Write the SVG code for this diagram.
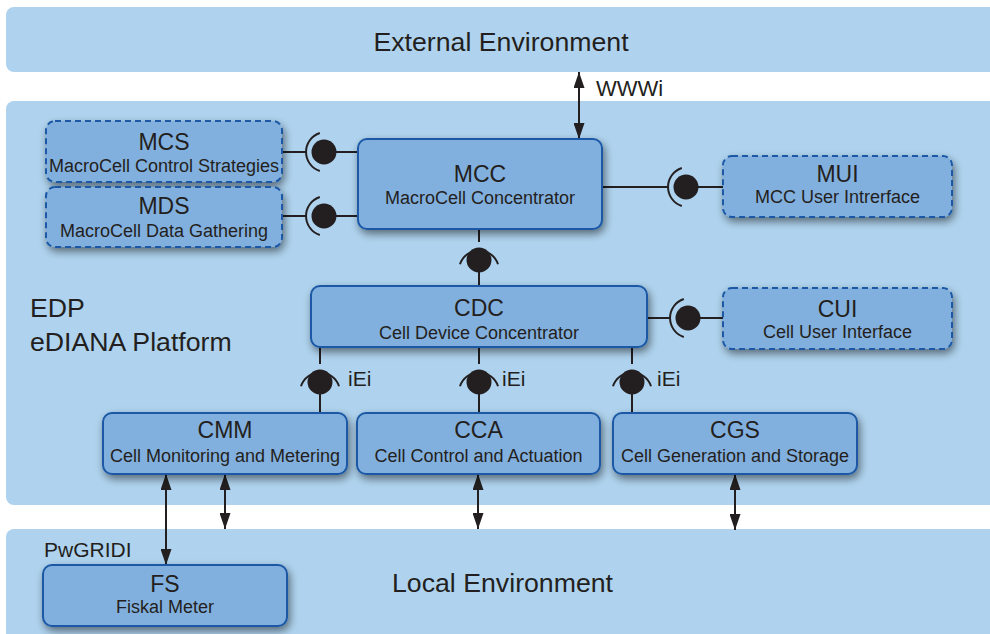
<svg xmlns="http://www.w3.org/2000/svg" width="990" height="634" viewBox="0 0 990 634">
<defs>
<filter id="sh" x="-20%" y="-30%" width="140%" height="170%">
<feGaussianBlur in="SourceAlpha" stdDeviation="4.5"/>
<feOffset dx="2" dy="4" result="b"/>
<feComponentTransfer><feFuncA type="linear" slope="0.5"/></feComponentTransfer>
<feMerge><feMergeNode/><feMergeNode in="SourceGraphic"/></feMerge>
</filter>
<marker id="ah" viewBox="0 0 10 10" refX="10" refY="5" markerWidth="16" markerHeight="11" markerUnits="userSpaceOnUse" orient="auto-start-reverse" preserveAspectRatio="none">
<path d="M0,0 L10,5 L0,10 z" fill="#231f20"/>
</marker>
</defs>
<style>
.panel{fill:#afd3ee}
.node{fill:#82b0de;stroke:#1b59a6;stroke-width:2}
.dash{stroke-dasharray:6 4}
.t{font-family:"Liberation Sans",Arial,sans-serif;fill:#231f20}
.title{font-size:23px;text-anchor:middle}
.sub{font-size:18px;text-anchor:middle}
.big{font-size:26.7px}
.lbl{font-size:21px}
.ln{stroke:#231f20;stroke-width:2;fill:none}
.ball{fill:#231f20}
.arr{stroke:#231f20;stroke-width:2;fill:none;marker-start:url(#ah);marker-end:url(#ah)}
</style>
<rect width="990" height="634" fill="#ffffff"/>
<g id="external">
<rect class="panel" x="6" y="7" width="1000" height="65" rx="8"/>
<text class="t big" x="501" y="51" text-anchor="middle">External Environment</text>
</g>
<g id="edp">
<rect class="panel" x="6" y="101" width="1000" height="404" rx="8"/>
<text class="t big" x="30" y="317">EDP</text>
<text class="t big" x="30" y="351">eDIANA Platform</text>
</g>
<g id="local">
<rect class="panel" x="6" y="529" width="1000" height="120" rx="8"/>
<text class="t big" x="392" y="592">Local Environment</text>
<text class="t lbl" x="44" y="557">PwGRIDI</text>
</g>
<g id="connectors">
<!-- MCS - MCC -->
<line class="ln" x1="282" y1="152" x2="306" y2="152"/>
<path class="ln" d="M319.8,133 A20,20 0 0 0 319.8,171"/>
<circle class="ball" cx="324" cy="152" r="12.5"/>
<line class="ln" x1="324" y1="152" x2="358" y2="152"/>
<!-- MDS - MCC -->
<line class="ln" x1="282" y1="216" x2="306" y2="216"/>
<path class="ln" d="M319.8,197 A20,20 0 0 0 319.8,235"/>
<circle class="ball" cx="324" cy="216" r="12.5"/>
<line class="ln" x1="324" y1="216" x2="358" y2="216"/>
<!-- MCC - MUI -->
<line class="ln" x1="602" y1="187" x2="668" y2="187"/>
<path class="ln" d="M681.8,168 A20,20 0 0 0 681.8,206"/>
<circle class="ball" cx="686" cy="187" r="12.5"/>
<line class="ln" x1="686" y1="187" x2="723" y2="187"/>
<!-- MCC - CDC -->
<line class="ln" x1="479" y1="229" x2="479" y2="242"/>
<path class="ln" d="M460,264.2 A20,20 0 0 1 498,264.2"/>
<circle class="ball" cx="479" cy="260" r="12.5"/>
<line class="ln" x1="479" y1="260" x2="479" y2="286"/>
<!-- CDC - CUI -->
<line class="ln" x1="647" y1="318" x2="670" y2="318"/>
<path class="ln" d="M683.8,299 A20,20 0 0 0 683.8,337"/>
<circle class="ball" cx="688" cy="318" r="12.5"/>
<line class="ln" x1="688" y1="318" x2="723" y2="318"/>
<!-- CDC - CMM -->
<line class="ln" x1="320" y1="347" x2="320" y2="364"/>
<path class="ln" d="M301,386.2 A20,20 0 0 1 339,386.2"/>
<circle class="ball" cx="320" cy="382" r="12.5"/>
<line class="ln" x1="320" y1="382" x2="320" y2="413"/>
<!-- CDC - CCA -->
<line class="ln" x1="479" y1="347" x2="479" y2="364"/>
<path class="ln" d="M460,386.2 A20,20 0 0 1 498,386.2"/>
<circle class="ball" cx="479" cy="382" r="12.5"/>
<line class="ln" x1="479" y1="382" x2="479" y2="413"/>
<!-- CDC - CGS -->
<line class="ln" x1="632" y1="347" x2="632" y2="364"/>
<path class="ln" d="M613,386.2 A20,20 0 0 1 651,386.2"/>
<circle class="ball" cx="632" cy="382" r="12.5"/>
<line class="ln" x1="632" y1="382" x2="632" y2="413"/>
<text class="t lbl" x="348" y="386">iEi</text>
<text class="t lbl" x="502" y="386">iEi</text>
<text class="t lbl" x="657" y="386">iEi</text>
<!-- arrows -->
<line class="arr" x1="579" y1="72" x2="579" y2="139"/>
<text class="t" x="596" y="96" font-size="22">WWWi</text>
<line class="arr" x1="166" y1="474" x2="166" y2="565"/>
<line class="arr" x1="225" y1="474" x2="225" y2="529"/>
<line class="arr" x1="478" y1="474" x2="478" y2="529"/>
<line class="arr" x1="735" y1="474" x2="735" y2="530"/>
</g>
<g id="MCS">
<rect class="node dash" filter="url(#sh)" x="46" y="121" width="236" height="61" rx="9"/>
<text class="t title" x="164" y="150">MCS</text>
<text class="t sub" x="164" y="172">MacroCell Control Strategies</text>
</g>
<g id="MDS">
<rect class="node dash" filter="url(#sh)" x="46" y="187" width="236" height="60" rx="9"/>
<text class="t title" x="164" y="214">MDS</text>
<text class="t sub" x="164" y="237">MacroCell Data Gathering</text>
</g>
<g id="MCC">
<rect class="node" filter="url(#sh)" x="358" y="139" width="244" height="90" rx="9"/>
<text class="t title" x="480" y="182">MCC</text>
<text class="t sub" x="480" y="204">MacroCell Concentrator</text>
</g>
<g id="MUI">
<rect class="node dash" filter="url(#sh)" x="723" y="156" width="229" height="61" rx="9"/>
<text class="t title" x="837.5" y="182">MUI</text>
<text class="t sub" x="837.5" y="203">MCC User Intrerface</text>
</g>
<g id="CDC">
<rect class="node" filter="url(#sh)" x="311" y="286" width="336" height="61" rx="9"/>
<text class="t title" x="479" y="316">CDC</text>
<text class="t sub" x="479" y="339">Cell Device Concentrator</text>
</g>
<g id="CUI">
<rect class="node dash" filter="url(#sh)" x="723" y="288" width="229" height="61" rx="9"/>
<text class="t title" x="837.5" y="317">CUI</text>
<text class="t sub" x="837.5" y="338">Cell User Interface</text>
</g>
<g id="CMM">
<rect class="node" filter="url(#sh)" x="103" y="413" width="244" height="61" rx="9"/>
<text class="t title" x="225" y="438">CMM</text>
<text class="t sub" x="225" y="462">Cell Monitoring and Metering</text>
</g>
<g id="CCA">
<rect class="node" filter="url(#sh)" x="357" y="413" width="243" height="61" rx="9"/>
<text class="t title" x="478.5" y="438">CCA</text>
<text class="t sub" x="478.5" y="462">Cell Control and Actuation</text>
</g>
<g id="CGS">
<rect class="node" filter="url(#sh)" x="613" y="413" width="244" height="61" rx="9"/>
<text class="t title" x="735" y="438">CGS</text>
<text class="t sub" x="735" y="462">Cell Generation and Storage</text>
</g>
<g id="FS">
<rect class="node" filter="url(#sh)" x="43" y="565" width="244" height="61" rx="9"/>
<text class="t title" x="165" y="592">FS</text>
<text class="t sub" x="165" y="613">Fiskal Meter</text>
</g>
</svg>
